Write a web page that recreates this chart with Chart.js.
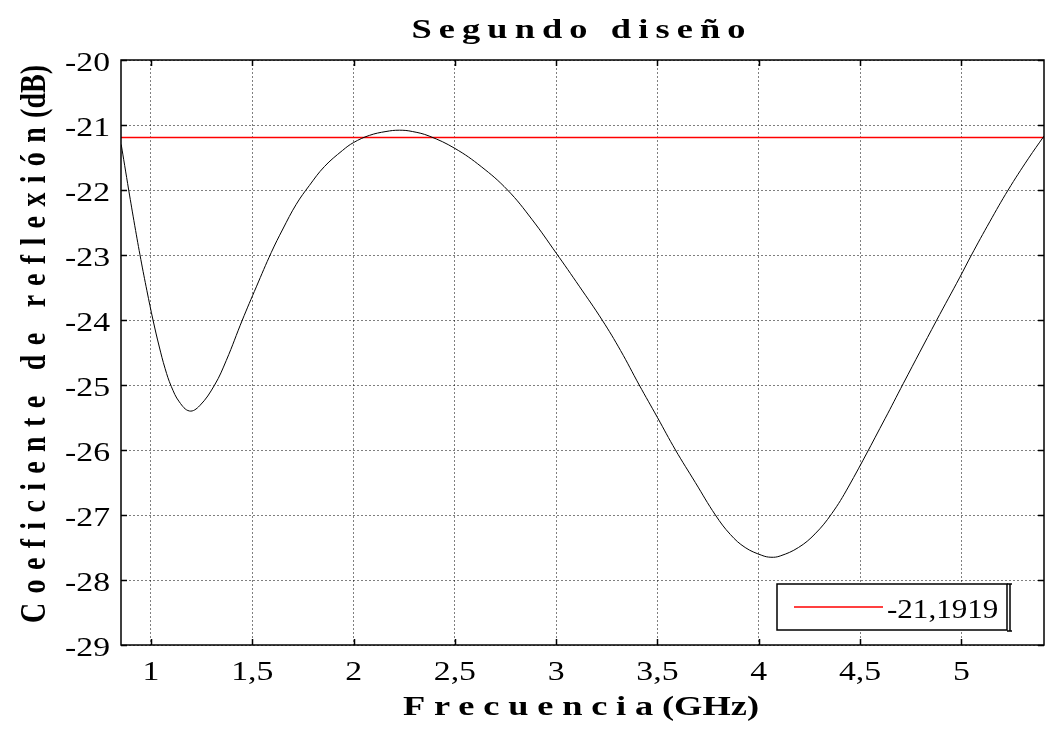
<!DOCTYPE html>
<html>
<head>
<meta charset="utf-8">
<title>Segundo diseño</title>
<script src="https://cdn.jsdelivr.net/npm/chart.js@4/dist/chart.umd.min.js"></script>
<style>
  html, body { margin: 0; padding: 0; background: #fff; }
  #wrap { width: 1051px; height: 729px; position: relative; }
</style>
</head>
<body>
<div id="wrap"><canvas id="chart"></canvas></div>
<script>
// ---------- Data ----------
const freqGHz = [
  0.853, 0.87, 0.89, 0.92, 0.95, 0.98, 1.01, 1.04, 1.07, 1.10,
  1.14, 1.19, 1.24, 1.314, 1.372, 1.451, 1.52, 1.594, 1.651, 1.717,
  1.782, 1.856, 1.946, 2.0, 2.078, 2.16, 2.226, 2.29, 2.373, 2.5,
  2.63, 2.76, 2.88, 3.0, 3.114, 3.227, 3.318, 3.41, 3.50, 3.589,
  3.687, 3.786, 3.86, 3.933, 4.015, 4.06, 4.106, 4.196, 4.278, 4.36,
  4.442, 4.623, 4.713, 4.877, 4.993, 5.05, 5.14, 5.231, 5.33, 5.408
];
const reflDB = [
  -21.30, -21.62, -22.00, -22.55, -23.07, -23.55, -24.00, -24.40, -24.75, -25.02,
  -25.26, -25.40, -25.32, -25.00, -24.62, -24.00, -23.49, -22.96, -22.60, -22.22,
  -21.93, -21.64, -21.39, -21.27, -21.16, -21.10, -21.08, -21.10, -21.17, -21.36,
  -21.64, -22.00, -22.45, -22.97, -23.48, -24.00, -24.47, -25.00, -25.50, -26.00,
  -26.50, -27.00, -27.30, -27.50, -27.62, -27.65, -27.63, -27.50, -27.29, -26.98,
  -26.57, -25.52, -24.98, -24.01, -23.34, -23.00, -22.49, -22.00, -21.52, -21.17
];
const refLevel = -21.1919;
const refLabel = "-21,1919";

const xMin = 0.852, xMax = 5.408;
const yMin = -29, yMax = -20;
const xTickValues = [1, 1.5, 2, 2.5, 3, 3.5, 4, 4.5, 5];
const yTickValues = [-29, -28, -27, -26, -25, -24, -23, -22, -21, -20];

const titleText = "Segundo diseño";
const xTitleParts = ["Frecuencia", "(GHz)"];
const yTitleParts = ["Coeficiente de reflexión", "(dB)"];

// ---------- Helpers ----------
const SERIF = "'Times New Roman', 'Liberation Serif', serif";
const comma = (v) => String(v).replace(".", ",");
const STRETCH = 1.3;      // the source picture is stretched sideways
const TICK_STRETCH = 1.25;

// draws [spaced part, tight part] centred on 0,0, spread to fit targetW
function drawTitleParts(ctx, parts, font, targetW) {
  ctx.font = font;
  ctx.letterSpacing = "0px";
  const n1 = ctx.measureText(parts[0]).width;
  const w2 = parts[1] ? ctx.measureText(parts[1]).width : 0;
  const gaps = parts[0].length;
  const sp = Math.max(0, (targetW - n1 - w2) / gaps);
  const w1 = n1 + sp * gaps;
  const total = w1 + w2;
  ctx.textAlign = "left";
  ctx.textBaseline = "alphabetic";
  ctx.letterSpacing = sp + "px";
  ctx.fillText(parts[0], -total / 2, 0);
  ctx.letterSpacing = "0px";
  if (parts[1]) ctx.fillText(parts[1], -total / 2 + w1, 0);
}

function stretchedText(ctx, text, x, y, align, sx) {
  ctx.save();
  ctx.translate(x, y);
  ctx.scale(sx, 1);
  ctx.textAlign = align;
  ctx.fillText(text, 0, 0);
  ctx.restore();
}

// ---------- Plugin: box, inner ticks, labels, titles, legend ----------
const decorations = {
  id: "decorations",
  afterDraw(chart) {
    const { ctx, chartArea: a, scales } = chart;
    ctx.save();

    // frame
    ctx.strokeStyle = "#000";
    ctx.lineWidth = 1.5;
    ctx.strokeRect(a.left, a.top, a.right - a.left, a.bottom - a.top);

    // inward tick marks
    ctx.beginPath();
    xTickValues.forEach(v => {
      const px = Math.round(scales.x.getPixelForValue(v)) + 0.5;
      ctx.moveTo(px, a.bottom); ctx.lineTo(px, a.bottom - 6);
      ctx.moveTo(px, a.top); ctx.lineTo(px, a.top + 6);
    });
    yTickValues.forEach(v => {
      const py = Math.round(scales.y.getPixelForValue(v)) + 0.5;
      ctx.moveTo(a.left, py); ctx.lineTo(a.left + 6, py);
      ctx.moveTo(a.right, py); ctx.lineTo(a.right - 6, py);
    });
    ctx.stroke();

    // tick labels
    ctx.fillStyle = "#000";
    ctx.font = "27px " + SERIF;
    ctx.textBaseline = "alphabetic";
    xTickValues.forEach(v => {
      stretchedText(ctx, comma(v), scales.x.getPixelForValue(v), a.bottom + 35, "center", TICK_STRETCH);
    });
    yTickValues.forEach(v => {
      stretchedText(ctx, comma(v), a.left - 11, scales.y.getPixelForValue(v) + 11, "right", TICK_STRETCH);
    });

    // titles (bold, letter spaced, stretched sideways like the source)
    const bold = "bold 28px " + SERIF;

    ctx.save();
    ctx.translate(582, 38);
    ctx.scale(STRETCH, 1);
    drawTitleParts(ctx, [titleText, ""], bold, 341 / STRETCH);
    ctx.restore();

    ctx.save();
    ctx.translate(581, 715);
    ctx.scale(STRETCH, 1);
    drawTitleParts(ctx, xTitleParts, bold, 356 / STRETCH);
    ctx.restore();

    ctx.save();
    ctx.translate(45, 344);
    ctx.rotate(-Math.PI / 2);
    ctx.scale(1, STRETCH);
    drawTitleParts(ctx, yTitleParts, bold, 558);
    ctx.restore();

    // legend box
    const lx = a.right - 267, ly = a.bottom - 61, lw = 230, lh = 46;
    ctx.fillStyle = "#fff";
    ctx.fillRect(lx, ly, lw, lh);
    ctx.strokeStyle = "#000";
    ctx.lineWidth = 1.5;
    ctx.strokeRect(lx, ly, lw, lh);
    ctx.beginPath();
    ctx.moveTo(lx + lw + 3, ly); ctx.lineTo(lx + lw + 3, ly + lh + 1);
    ctx.moveTo(lx + lw, ly); ctx.lineTo(lx + lw + 5, ly);
    ctx.moveTo(lx + lw, ly + lh + 1); ctx.lineTo(lx + lw + 5, ly + lh + 1);
    ctx.stroke();
    ctx.strokeStyle = "#ff0000";
    ctx.lineWidth = 1.5;
    ctx.beginPath();
    ctx.moveTo(lx + 17, ly + 23); ctx.lineTo(lx + 106, ly + 23);
    ctx.stroke();
    ctx.fillStyle = "#000";
    ctx.font = "27px " + SERIF;
    stretchedText(ctx, refLabel, lx + 110, ly + 34, "left", 1.15);

    ctx.restore();
  }
};

// ---------- Chart ----------
const grid = {
  color: "rgba(0,0,0,0.5)",
  lineWidth: 1,
  drawTicks: false
};

new Chart(document.getElementById("chart"), {
  type: "line",
  data: {
    datasets: [
      {
        label: "S11",
        data: freqGHz.map((f, i) => ({ x: f, y: reflDB[i] })),
        borderColor: "#000",
        borderWidth: 1,
        pointRadius: 0,
        tension: 0.4,
        fill: false
      },
      {
        label: refLabel,
        data: [{ x: xMin, y: refLevel }, { x: xMax, y: refLevel }],
        borderColor: "#ff0000",
        borderWidth: 1.5,
        pointRadius: 0,
        fill: false
      }
    ]
  },
  options: {
    responsive: true,
    maintainAspectRatio: false,
    animation: false,
    devicePixelRatio: 1,
    layout: { padding: { top: 60, right: 7, left: 0, bottom: 0 } },
    plugins: {
      legend: { display: false },
      title: { display: false },
      tooltip: { enabled: false }
    },
    scales: {
      x: {
        type: "linear",
        min: xMin,
        max: xMax,
        afterBuildTicks: (s) => { s.ticks = xTickValues.map(v => ({ value: v })); },
        afterFit: (s) => { s.height = 84; },
        grid: Object.assign({}, grid),
        border: { display: false, dash: [2, 2] },
        ticks: { display: false }
      },
      y: {
        type: "linear",
        min: yMin,
        max: yMax,
        afterBuildTicks: (s) => { s.ticks = yTickValues.map(v => ({ value: v })); },
        afterFit: (s) => { s.width = 121; },
        grid: Object.assign({}, grid),
        border: { display: false, dash: [2, 2] },
        ticks: { display: false }
      }
    }
  },
  plugins: [decorations]
});
</script>
</body>
</html>
